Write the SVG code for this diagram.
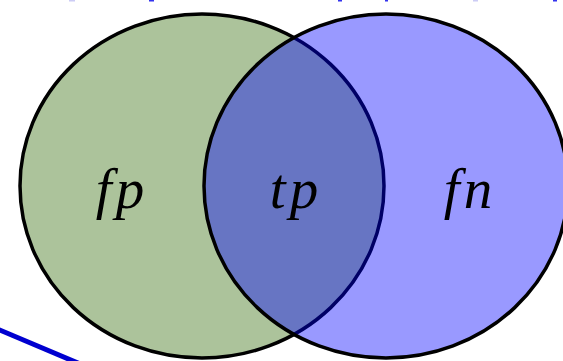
<svg xmlns="http://www.w3.org/2000/svg" width="563" height="361" viewBox="0 0 563 361">
  <style>
    .set { stroke: #000; stroke-width: 3.5; }
    .lbl { font-family: "Liberation Serif", "Times New Roman", serif; font-style: italic; font-size: 57px; letter-spacing: 4px; fill: #000; text-anchor: middle; }
    .mark { fill: #3333ee; }
    .markl { fill: #ccccf5; }
  </style>
  <rect width="563" height="361" fill="#fff"/>
  <g id="top-marks">
    <rect class="markl" x="69" y="0" width="6" height="1.5"/>
    <rect class="mark" x="149" y="0" width="5" height="1.5"/>
    <rect class="mark" x="338" y="0" width="4" height="1.5"/>
    <rect class="mark" x="385" y="0" width="3" height="1.5"/>
    <rect class="markl" x="473" y="0" width="5" height="1.5"/>
    <rect class="mark" x="553" y="0" width="4" height="1.5"/>
  </g>
  <g id="connectors">
    <line x1="-5" y1="328" x2="85" y2="366" stroke="#0000d0" stroke-width="5"/>
  </g>
  <g id="fp-set">
    <ellipse class="set" cx="202" cy="186" rx="182" ry="172" fill="#acc39b"/>
  </g>
  <g id="fn-set">
    <ellipse class="set" cx="386" cy="186" rx="182" ry="172" fill="#0000ff" fill-opacity="0.4"/>
  </g>
  <g id="labels">
    <text class="lbl" x="122" y="208">fp</text>
    <text class="lbl" x="296" y="208">tp</text>
    <text class="lbl" x="470" y="208">fn</text>
  </g>
</svg>
